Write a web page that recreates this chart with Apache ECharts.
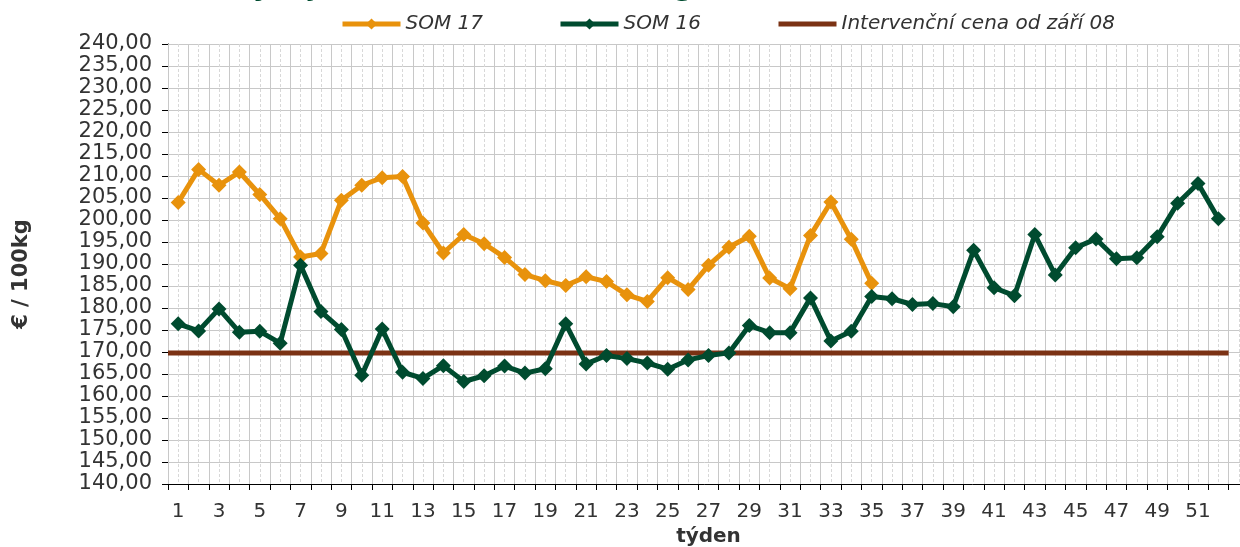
<!DOCTYPE html>
<html>
<head>
<meta charset="utf-8">
<script src="https://cdn.jsdelivr.net/npm/echarts@6/dist/echarts.min.js"></script>
<style>
  html, body { margin: 0; padding: 0; background: #fff; }
  #chart { width: 1240px; height: 547px; }
</style>
</head>
<body>
<div id="chart"></div>
<script>
/**
 * 数据
 */
var weeks = ['1', '2', '3', '4', '5', '6', '7', '8', '9', '10', '11', '12', '13', '14', '15', '16', '17', '18',
  '19', '20', '21', '22', '23', '24', '25', '26', '27', '28', '29', '30', '31', '32', '33', '34', '35', '36',
  '37', '38', '39', '40', '41', '42', '43', '44', '45', '46', '47', '48', '49', '50', '51', '52', '53'];

var som17 = [204.0, 211.5, 207.9, 210.9, 205.8, 200.3, 191.6, 192.4, 204.5, 207.9, 209.6, 209.9, 199.3,
  192.5, 196.7, 194.6, 191.5, 187.6, 186.2, 185.1, 187.1, 186.0, 183.0, 181.5, 186.9, 184.2, 189.7,
  193.8, 196.3, 186.8, 184.4, 196.5, 204.1, 195.6, 185.6];

var som16 = [176.4, 174.8, 179.8, 174.5, 174.7, 172.0, 189.7, 179.2, 175.1, 164.7, 175.2, 165.4, 164.0,
  166.9, 163.3, 164.6, 166.8, 165.2, 166.2, 176.4, 167.3, 169.2, 168.5, 167.5, 166.1, 168.2, 169.2,
  169.8, 176.0, 174.4, 174.4, 182.3, 172.5, 174.7, 182.6, 182.1, 180.8, 181.0, 180.3, 193.1, 184.6,
  182.8, 196.7, 187.5, 193.7, 195.7, 191.2, 191.4, 196.2, 203.8, 208.3, 200.3];

// intervenční cena, od začátku 1. týdne do konce 52. týdne
var intervence = [[0, 169.8], [52, 169.8]];

var names = ['SOM 17', 'SOM 16', 'Intervenční cena od září 08'];
var colors = ['#E8920C', '#004B2F', '#7B3214'];

var FONT = 'DejaVu Sans, Verdana, sans-serif';

var myChart = echarts.init(document.getElementById('chart'));

var option = {
  animation: false,
  title: {
    text: 'Vývoj cen SOM v EU (€/100kg)',
    left: 226,
    top: -31,
    textStyle: { fontFamily: FONT, fontSize: 28, fontWeight: 'bold', color: '#004B2F' }
  },
  legend: {
    left: 335,
    top: 9,
    itemWidth: 58,
    itemHeight: 14,
    itemGap: 75,
    textStyle: { fontFamily: FONT, fontSize: 20, fontStyle: 'italic', color: '#333' },
    data: [
      { name: names[0], lineStyle: { width: 5 } },
      { name: names[1], lineStyle: { width: 5 } },
      { name: names[2], lineStyle: { width: 5 }, itemStyle: { opacity: 0 } }
    ]
  },
  grid: { left: 168, top: 44, width: 1081, height: 440, containLabel: false, outerBoundsMode: 'none' },
  xAxis: [
    {
      type: 'category',
      data: weeks,
      boundaryGap: true,
      name: 'týden',
      nameLocation: 'middle',
      nameGap: 42,
      nameTextStyle: { fontFamily: FONT, fontSize: 20, fontWeight: 'bold', color: '#333' },
      axisLine: { lineStyle: { color: '#000', width: 1 } },
      axisTick: { show: true, interval: 0, length: 6, lineStyle: { color: '#000' } },
      axisLabel: {
        interval: function (idx) { return idx % 2 === 0 && idx < 52; },
        margin: 18,
        fontFamily: FONT, fontSize: 20, color: '#333'
      },
      splitLine: { show: true, interval: 0, lineStyle: { color: '#c8c8c8', width: 1 } },
      z: 3
    },
    {
      // pomocná osa pro jemnou mřížku a intervenční cenu
      type: 'value',
      min: 0, max: 53, interval: 0.5,
      show: true,
      axisLine: { show: false },
      axisTick: { show: false },
      axisLabel: { show: false },
      splitLine: { show: true, lineStyle: { color: '#d8d8d8', width: 1, type: [3, 2] } }
    }
  ],
  yAxis: {
    type: 'value',
    min: 140, max: 240, interval: 5,
    name: '€ / 100kg',
    nameLocation: 'middle',
    nameGap: 136,
    nameRotate: 90,
    nameTextStyle: { fontFamily: FONT, fontSize: 21, fontWeight: 'bold', color: '#333', padding: [0, 20, 0, 0] },
    axisLine: { show: true, lineStyle: { color: '#000', width: 1 } },
    axisTick: { show: true, length: 6, lineStyle: { color: '#000' } },
    axisLabel: {
      margin: 16,
      fontFamily: FONT, fontSize: 21, color: '#333',
      formatter: function (v) { return v.toFixed(2).replace('.', ','); }
    },
    splitLine: { show: true, lineStyle: { color: '#c8c8c8', width: 1 } }
  },
  series: [
    {
      name: names[2],
      type: 'line',
      xAxisIndex: 1,
      data: intervence,
      symbol: 'none',
      lineStyle: { color: colors[2], width: 5 },
      itemStyle: { color: colors[2] },
      z: 3
    },
    {
      name: names[0],
      type: 'line',
      data: som17,
      symbol: 'diamond',
      symbolSize: 15,
      showAllSymbol: true,
      lineStyle: { color: colors[0], width: 5 },
      itemStyle: { color: colors[0] },
      z: 4
    },
    {
      name: names[1],
      type: 'line',
      data: som16,
      symbol: 'diamond',
      symbolSize: 15,
      showAllSymbol: true,
      lineStyle: { color: colors[1], width: 5 },
      itemStyle: { color: colors[1] },
      z: 5
    }
  ]
};

myChart.setOption(option);
</script>
</body>
</html>
